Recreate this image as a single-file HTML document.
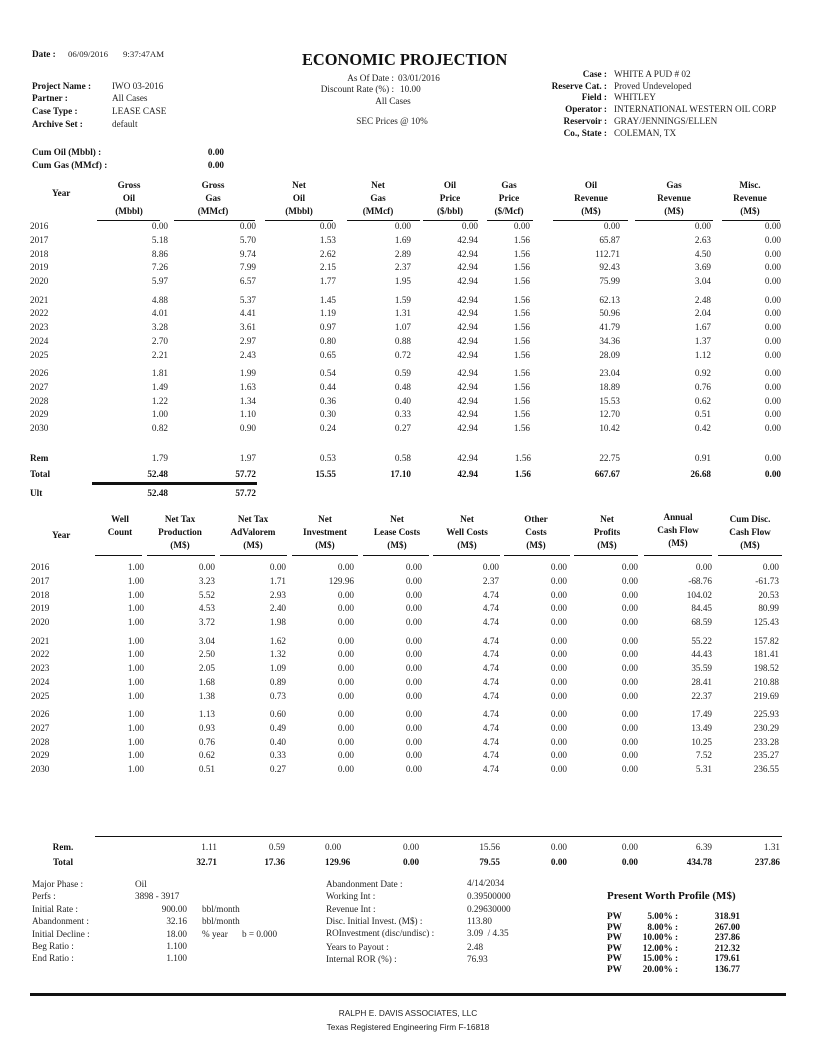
<!DOCTYPE html>
<html>
<head>
<meta charset="utf-8">
<style>
html,body{margin:0;padding:0;background:#fff;}
body{width:816px;height:1056px;position:relative;overflow:hidden;font-family:"Liberation Serif",serif;font-size:9.2px;color:#222;}
.a{position:absolute;white-space:nowrap;line-height:12px;height:12px;}
.b{font-weight:bold;color:#111;}
.r{text-align:right;}
.col{position:absolute;line-height:13.8px;white-space:nowrap;text-align:right;}
.col div{margin-bottom:4.5px;}
.yl{text-align:left;}
.hc{position:absolute;width:100px;text-align:center;font-weight:bold;color:#111;line-height:13px;white-space:nowrap;}
.hl{position:absolute;height:1.5px;background:#111;}
.pw{position:absolute;white-space:nowrap;line-height:12px;height:12px;font-weight:bold;color:#111;}
</style>
</head>
<body>

<!-- Header left -->
<div class="a b" style="left:32px;top:48px;">Date :</div>
<div class="a" style="left:68px;top:48px;font-size:8.8px;">06/09/2016</div>
<div class="a" style="left:123px;top:48px;font-size:8.8px;">9:37:47AM</div>

<div class="a b" style="left:302px;top:51px;font-size:16.4px;line-height:18px;height:18px;">ECONOMIC PROJECTION</div>

<div class="a b" style="left:32px;top:80px;">Project Name :</div>
<div class="a" style="left:112px;top:80px;">IWO 03-2016</div>
<div class="a b" style="left:32px;top:92px;">Partner :</div>
<div class="a" style="left:112px;top:92px;">All Cases</div>
<div class="a b" style="left:32px;top:105px;">Case Type :</div>
<div class="a" style="left:112px;top:105px;">LEASE CASE</div>
<div class="a b" style="left:32px;top:118px;">Archive Set :</div>
<div class="a" style="left:112px;top:118px;">default</div>

<div class="a b" style="left:32px;top:146px;">Cum Oil (Mbbl) :</div>
<div class="a b r" style="right:592px;top:146px;">0.00</div>
<div class="a b" style="left:32px;top:159px;">Cum Gas (MMcf) :</div>
<div class="a b r" style="right:592px;top:159px;">0.00</div>

<!-- Header center -->
<div class="a r" style="right:422px;top:72px;">As Of Date :</div>
<div class="a" style="left:398px;top:72px;">03/01/2016</div>
<div class="a r" style="right:422px;top:83px;">Discount Rate (%) :</div>
<div class="a" style="left:400px;top:83px;">10.00</div>
<div class="a" style="left:343px;top:95px;width:100px;text-align:center;">All Cases</div>
<div class="a" style="left:342px;top:115px;width:100px;text-align:center;">SEC Prices @ 10%</div>

<!-- Header right -->
<div class="a b r" style="right:209px;top:68px;">Case :</div>
<div class="a" style="left:614px;top:68px;">WHITE A PUD # 02</div>
<div class="a b r" style="right:209px;top:80px;">Reserve Cat. :</div>
<div class="a" style="left:614px;top:80px;">Proved Undeveloped</div>
<div class="a b r" style="right:209px;top:91px;">Field :</div>
<div class="a" style="left:614px;top:91px;">WHITLEY</div>
<div class="a b r" style="right:209px;top:103px;">Operator :</div>
<div class="a" style="left:614px;top:103px;width:166px;overflow:hidden;">INTERNATIONAL WESTERN OIL CORP</div>
<div class="a b r" style="right:209px;top:115px;">Reservoir :</div>
<div class="a" style="left:614px;top:115px;">GRAY/JENNINGS/ELLEN</div>
<div class="a b r" style="right:209px;top:127px;">Co., State :</div>
<div class="a" style="left:614px;top:127px;">COLEMAN, TX</div>

<!-- Table 1 header -->
<div class="a b" style="left:52px;top:187px;">Year</div>
<div class="hc" style="left:79px;top:178.5px;">Gross<br>Oil<br>(Mbbl)</div>
<div class="hc" style="left:163px;top:178.5px;">Gross<br>Gas<br>(MMcf)</div>
<div class="hc" style="left:249px;top:178.5px;">Net<br>Oil<br>(Mbbl)</div>
<div class="hc" style="left:328px;top:178.5px;">Net<br>Gas<br>(MMcf)</div>
<div class="hc" style="left:400px;top:178.5px;">Oil<br>Price<br>($/bbl)</div>
<div class="hc" style="left:459px;top:178.5px;">Gas<br>Price<br>($/Mcf)</div>
<div class="hc" style="left:541px;top:178.5px;">Oil<br>Revenue<br>(M$)</div>
<div class="hc" style="left:624px;top:178.5px;">Gas<br>Revenue<br>(M$)</div>
<div class="hc" style="left:700px;top:178.5px;">Misc.<br>Revenue<br>(M$)</div>

<div class="hl" style="top:219.5px;left:97px;width:63px;"></div>
<div class="hl" style="top:219.5px;left:174px;width:81px;"></div>
<div class="hl" style="top:219.5px;left:265px;width:68px;"></div>
<div class="hl" style="top:219.5px;left:347px;width:73px;"></div>
<div class="hl" style="top:219.5px;left:423px;width:55px;"></div>
<div class="hl" style="top:219.5px;left:487px;width:46px;"></div>
<div class="hl" style="top:219.5px;left:553px;width:75px;"></div>
<div class="hl" style="top:219.5px;left:635px;width:78px;"></div>
<div class="hl" style="top:219.5px;left:722px;width:58px;"></div>

<!-- Table 1 data -->
<div class="col yl" style="left:30px;top:220.1px;"><div>2016<br>2017<br>2018<br>2019<br>2020</div><div>2021<br>2022<br>2023<br>2024<br>2025</div><div>2026<br>2027<br>2028<br>2029<br>2030</div></div>
<div class="col" style="right:648px;top:220.1px;"><div>0.00<br>5.18<br>8.86<br>7.26<br>5.97</div><div>4.88<br>4.01<br>3.28<br>2.70<br>2.21</div><div>1.81<br>1.49<br>1.22<br>1.00<br>0.82</div></div>
<div class="col" style="right:560px;top:220.1px;"><div>0.00<br>5.70<br>9.74<br>7.99<br>6.57</div><div>5.37<br>4.41<br>3.61<br>2.97<br>2.43</div><div>1.99<br>1.63<br>1.34<br>1.10<br>0.90</div></div>
<div class="col" style="right:480px;top:220.1px;"><div>0.00<br>1.53<br>2.62<br>2.15<br>1.77</div><div>1.45<br>1.19<br>0.97<br>0.80<br>0.65</div><div>0.54<br>0.44<br>0.36<br>0.30<br>0.24</div></div>
<div class="col" style="right:405px;top:220.1px;"><div>0.00<br>1.69<br>2.89<br>2.37<br>1.95</div><div>1.59<br>1.31<br>1.07<br>0.88<br>0.72</div><div>0.59<br>0.48<br>0.40<br>0.33<br>0.27</div></div>
<div class="col" style="right:338px;top:220.1px;"><div>0.00<br>42.94<br>42.94<br>42.94<br>42.94</div><div>42.94<br>42.94<br>42.94<br>42.94<br>42.94</div><div>42.94<br>42.94<br>42.94<br>42.94<br>42.94</div></div>
<div class="col" style="right:286px;top:220.1px;"><div>0.00<br>1.56<br>1.56<br>1.56<br>1.56</div><div>1.56<br>1.56<br>1.56<br>1.56<br>1.56</div><div>1.56<br>1.56<br>1.56<br>1.56<br>1.56</div></div>
<div class="col" style="right:196px;top:220.1px;"><div>0.00<br>65.87<br>112.71<br>92.43<br>75.99</div><div>62.13<br>50.96<br>41.79<br>34.36<br>28.09</div><div>23.04<br>18.89<br>15.53<br>12.70<br>10.42</div></div>
<div class="col" style="right:105px;top:220.1px;"><div>0.00<br>2.63<br>4.50<br>3.69<br>3.04</div><div>2.48<br>2.04<br>1.67<br>1.37<br>1.12</div><div>0.92<br>0.76<br>0.62<br>0.51<br>0.42</div></div>
<div class="col" style="right:35px;top:220.1px;"><div>0.00<br>0.00<br>0.00<br>0.00<br>0.00</div><div>0.00<br>0.00<br>0.00<br>0.00<br>0.00</div><div>0.00<br>0.00<br>0.00<br>0.00<br>0.00</div></div>

<!-- Table 1 Rem / Total / Ult -->
<div class="a b" style="left:30px;top:452px;">Rem</div>
<div class="a r" style="right:648px;top:452px;">1.79</div>
<div class="a r" style="right:560px;top:452px;">1.97</div>
<div class="a r" style="right:480px;top:452px;">0.53</div>
<div class="a r" style="right:405px;top:452px;">0.58</div>
<div class="a r" style="right:338px;top:452px;">42.94</div>
<div class="a r" style="right:285px;top:452px;">1.56</div>
<div class="a r" style="right:196px;top:452px;">22.75</div>
<div class="a r" style="right:105px;top:452px;">0.91</div>
<div class="a r" style="right:35px;top:452px;">0.00</div>

<div class="a b" style="left:30px;top:468px;">Total</div>
<div class="a b r" style="right:648px;top:468px;">52.48</div>
<div class="a b r" style="right:560px;top:468px;">57.72</div>
<div class="a b r" style="right:480px;top:468px;">15.55</div>
<div class="a b r" style="right:405px;top:468px;">17.10</div>
<div class="a b r" style="right:338px;top:468px;">42.94</div>
<div class="a b r" style="right:285px;top:468px;">1.56</div>
<div class="a b r" style="right:196px;top:468px;">667.67</div>
<div class="a b r" style="right:105px;top:468px;">26.68</div>
<div class="a b r" style="right:35px;top:468px;">0.00</div>

<div style="position:absolute;left:92px;top:482px;width:165px;height:3px;background:#111;"></div>

<div class="a b" style="left:30px;top:487px;">Ult</div>
<div class="a b r" style="right:648px;top:487px;">52.48</div>
<div class="a b r" style="right:560px;top:487px;">57.72</div>

<!-- Table 2 header -->
<div class="a b" style="left:52px;top:529px;">Year</div>
<div class="hc" style="left:70px;top:512.5px;">Well<br>Count</div>
<div class="hc" style="left:130px;top:512.5px;">Net Tax<br>Production<br>(M$)</div>
<div class="hc" style="left:203px;top:512.5px;">Net Tax<br>AdValorem<br>(M$)</div>
<div class="hc" style="left:275px;top:512.5px;">Net<br>Investment<br>(M$)</div>
<div class="hc" style="left:347px;top:512.5px;">Net<br>Lease Costs<br>(M$)</div>
<div class="hc" style="left:417px;top:512.5px;">Net<br>Well Costs<br>(M$)</div>
<div class="hc" style="left:486px;top:512.5px;">Other<br>Costs<br>(M$)</div>
<div class="hc" style="left:557px;top:512.5px;">Net<br>Profits<br>(M$)</div>
<div class="hc" style="left:628px;top:510.5px;">Annual<br>Cash Flow<br>(M$)</div>
<div class="hc" style="left:700px;top:512.5px;">Cum Disc.<br>Cash Flow<br>(M$)</div>

<div class="hl" style="top:554.5px;left:95px;width:47px;"></div>
<div class="hl" style="top:554.5px;left:147px;width:68px;"></div>
<div class="hl" style="top:554.5px;left:220px;width:67px;"></div>
<div class="hl" style="top:554.5px;left:292px;width:66px;"></div>
<div class="hl" style="top:554.5px;left:363px;width:66px;"></div>
<div class="hl" style="top:554.5px;left:433px;width:67px;"></div>
<div class="hl" style="top:554.5px;left:504px;width:66px;"></div>
<div class="hl" style="top:554.5px;left:574px;width:64px;"></div>
<div class="hl" style="top:554.5px;left:644px;width:68px;"></div>
<div class="hl" style="top:554.5px;left:718px;width:64px;"></div>

<!-- Table 2 data -->
<div class="col yl" style="left:31px;top:561.1px;"><div>2016<br>2017<br>2018<br>2019<br>2020</div><div>2021<br>2022<br>2023<br>2024<br>2025</div><div>2026<br>2027<br>2028<br>2029<br>2030</div></div>
<div class="col" style="right:672px;top:561.1px;"><div>1.00<br>1.00<br>1.00<br>1.00<br>1.00</div><div>1.00<br>1.00<br>1.00<br>1.00<br>1.00</div><div>1.00<br>1.00<br>1.00<br>1.00<br>1.00</div></div>
<div class="col" style="right:601px;top:561.1px;"><div>0.00<br>3.23<br>5.52<br>4.53<br>3.72</div><div>3.04<br>2.50<br>2.05<br>1.68<br>1.38</div><div>1.13<br>0.93<br>0.76<br>0.62<br>0.51</div></div>
<div class="col" style="right:530px;top:561.1px;"><div>0.00<br>1.71<br>2.93<br>2.40<br>1.98</div><div>1.62<br>1.32<br>1.09<br>0.89<br>0.73</div><div>0.60<br>0.49<br>0.40<br>0.33<br>0.27</div></div>
<div class="col" style="right:462px;top:561.1px;"><div>0.00<br>129.96<br>0.00<br>0.00<br>0.00</div><div>0.00<br>0.00<br>0.00<br>0.00<br>0.00</div><div>0.00<br>0.00<br>0.00<br>0.00<br>0.00</div></div>
<div class="col" style="right:394px;top:561.1px;"><div>0.00<br>0.00<br>0.00<br>0.00<br>0.00</div><div>0.00<br>0.00<br>0.00<br>0.00<br>0.00</div><div>0.00<br>0.00<br>0.00<br>0.00<br>0.00</div></div>
<div class="col" style="right:317px;top:561.1px;"><div>0.00<br>2.37<br>4.74<br>4.74<br>4.74</div><div>4.74<br>4.74<br>4.74<br>4.74<br>4.74</div><div>4.74<br>4.74<br>4.74<br>4.74<br>4.74</div></div>
<div class="col" style="right:249px;top:561.1px;"><div>0.00<br>0.00<br>0.00<br>0.00<br>0.00</div><div>0.00<br>0.00<br>0.00<br>0.00<br>0.00</div><div>0.00<br>0.00<br>0.00<br>0.00<br>0.00</div></div>
<div class="col" style="right:178px;top:561.1px;"><div>0.00<br>0.00<br>0.00<br>0.00<br>0.00</div><div>0.00<br>0.00<br>0.00<br>0.00<br>0.00</div><div>0.00<br>0.00<br>0.00<br>0.00<br>0.00</div></div>
<div class="col" style="right:104px;top:561.1px;"><div>0.00<br>-68.76<br>104.02<br>84.45<br>68.59</div><div>55.22<br>44.43<br>35.59<br>28.41<br>22.37</div><div>17.49<br>13.49<br>10.25<br>7.52<br>5.31</div></div>
<div class="col" style="right:37px;top:561.1px;"><div>0.00<br>-61.73<br>20.53<br>80.99<br>125.43</div><div>157.82<br>181.41<br>198.52<br>210.88<br>219.69</div><div>225.93<br>230.29<br>233.28<br>235.27<br>236.55</div></div>

<!-- Table 2 Rem / Total -->
<div class="hl" style="top:835.5px;left:95px;width:687px;"></div>

<div class="a b" style="left:13px;top:841px;width:100px;text-align:center;">Rem.</div>
<div class="a r" style="right:599px;top:841px;">1.11</div>
<div class="a r" style="right:531px;top:841px;">0.59</div>
<div class="a" style="left:325px;top:841px;">0.00</div>
<div class="a" style="left:403px;top:841px;">0.00</div>
<div class="a r" style="right:316px;top:841px;">15.56</div>
<div class="a r" style="right:249px;top:841px;">0.00</div>
<div class="a r" style="right:178px;top:841px;">0.00</div>
<div class="a r" style="right:104px;top:841px;">6.39</div>
<div class="a r" style="right:36px;top:841px;">1.31</div>

<div class="a b" style="left:13px;top:856px;width:100px;text-align:center;">Total</div>
<div class="a b r" style="right:599px;top:856px;">32.71</div>
<div class="a b r" style="right:531px;top:856px;">17.36</div>
<div class="a b" style="left:325px;top:856px;">129.96</div>
<div class="a b" style="left:403px;top:856px;">0.00</div>
<div class="a b r" style="right:316px;top:856px;">79.55</div>
<div class="a b r" style="right:249px;top:856px;">0.00</div>
<div class="a b r" style="right:178px;top:856px;">0.00</div>
<div class="a b r" style="right:104px;top:856px;">434.78</div>
<div class="a b r" style="right:36px;top:856px;">237.86</div>

<!-- Bottom left info -->
<div class="a" style="left:32px;top:878px;">Major Phase :</div>
<div class="a" style="left:135px;top:878px;">Oil</div>
<div class="a" style="left:32px;top:890px;">Perfs :</div>
<div class="a" style="left:135px;top:890px;">3898 - 3917</div>
<div class="a" style="left:32px;top:903px;">Initial Rate :</div>
<div class="a r" style="right:629px;top:903px;">900.00</div>
<div class="a" style="left:202px;top:903px;">bbl/month</div>
<div class="a" style="left:32px;top:915px;">Abandonment :</div>
<div class="a r" style="right:629px;top:915px;">32.16</div>
<div class="a" style="left:202px;top:915px;">bbl/month</div>
<div class="a" style="left:32px;top:928px;">Initial Decline :</div>
<div class="a r" style="right:629px;top:928px;">18.00</div>
<div class="a" style="left:202px;top:928px;">% year</div>
<div class="a" style="left:242px;top:928px;">b = 0.000</div>
<div class="a" style="left:32px;top:940px;">Beg Ratio :</div>
<div class="a r" style="right:629px;top:940px;">1.100</div>
<div class="a" style="left:32px;top:952px;">End Ratio :</div>
<div class="a r" style="right:629px;top:952px;">1.100</div>

<!-- Bottom middle info -->
<div class="a" style="left:326px;top:878px;">Abandonment Date :</div>
<div class="a" style="left:467px;top:877px;">4/14/2034</div>
<div class="a" style="left:326px;top:890px;">Working Int :</div>
<div class="a" style="left:467px;top:890px;">0.39500000</div>
<div class="a" style="left:326px;top:903px;">Revenue Int :</div>
<div class="a" style="left:467px;top:903px;">0.29630000</div>
<div class="a" style="left:326px;top:915px;">Disc. Initial Invest. (M$) :</div>
<div class="a" style="left:467px;top:915px;">113.80</div>
<div class="a" style="left:326px;top:927px;">ROInvestment (disc/undisc) :</div>
<div class="a" style="left:467px;top:927px;">3.09&nbsp; / 4.35</div>
<div class="a" style="left:326px;top:941px;">Years to Payout :</div>
<div class="a" style="left:467px;top:941px;">2.48</div>
<div class="a" style="left:326px;top:953px;">Internal ROR (%) :</div>
<div class="a" style="left:467px;top:953px;">76.93</div>

<!-- Present Worth Profile -->
<div class="a b" style="left:607px;top:889px;font-size:11px;line-height:14px;height:14px;">Present Worth Profile (M$)</div>
<div class="pw" style="left:607px;top:910px;">PW</div>
<div class="pw r" style="right:138px;top:910px;">5.00% :</div>
<div class="pw r" style="right:76px;top:910px;">318.91</div>
<div class="pw" style="left:607px;top:920.6px;">PW</div>
<div class="pw r" style="right:138px;top:920.6px;">8.00% :</div>
<div class="pw r" style="right:76px;top:920.6px;">267.00</div>
<div class="pw" style="left:607px;top:931.2px;">PW</div>
<div class="pw r" style="right:138px;top:931.2px;">10.00% :</div>
<div class="pw r" style="right:76px;top:931.2px;">237.86</div>
<div class="pw" style="left:607px;top:941.8px;">PW</div>
<div class="pw r" style="right:138px;top:941.8px;">12.00% :</div>
<div class="pw r" style="right:76px;top:941.8px;">212.32</div>
<div class="pw" style="left:607px;top:952.4px;">PW</div>
<div class="pw r" style="right:138px;top:952.4px;">15.00% :</div>
<div class="pw r" style="right:76px;top:952.4px;">179.61</div>
<div class="pw" style="left:607px;top:963px;">PW</div>
<div class="pw r" style="right:138px;top:963px;">20.00% :</div>
<div class="pw r" style="right:76px;top:963px;">136.77</div>

<!-- Footer -->
<div style="position:absolute;left:30px;top:993px;width:756px;height:2.5px;background:#111;"></div>
<div class="a" style="left:0;width:816px;text-align:center;top:1007px;font-family:'Liberation Sans',sans-serif;font-size:8.3px;">RALPH E. DAVIS ASSOCIATES, LLC</div>
<div class="a" style="left:0;width:816px;text-align:center;top:1021px;font-family:'Liberation Sans',sans-serif;font-size:8.3px;">Texas Registered Engineering Firm F-16818</div>

</body>
</html>
